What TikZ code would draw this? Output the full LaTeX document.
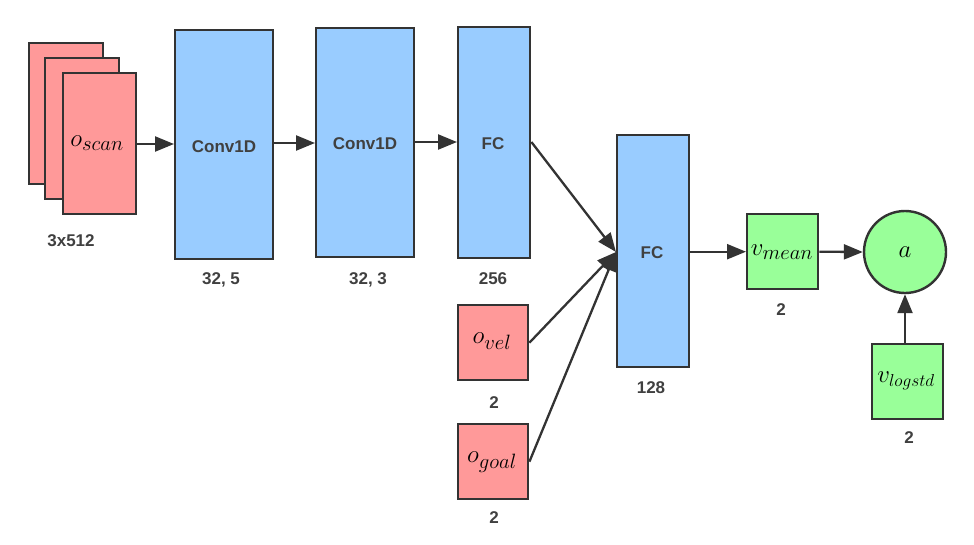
\documentclass[tikz,border=0pt]{standalone}
\usepackage{fontspec}
\setsansfont{Liberation Sans}
\usetikzlibrary{arrows.meta}
\definecolor{pinkf}{HTML}{FF9999}
\definecolor{bluef}{HTML}{99CCFF}
\definecolor{greenf}{HTML}{99FF99}
\definecolor{edge}{HTML}{333333}
\definecolor{lbl}{HTML}{404040}
\tikzset{
  box/.style={draw=edge, line width=2.4pt, inner sep=0pt, minimum width=#1},
  obs/.style={box, fill=pinkf},
  layer/.style={box, fill=bluef, font=\sffamily\bfseries\fontsize{17}{20}\selectfont, text=lbl},
  ltext/.style={font=\sffamily\bfseries\fontsize{17}{20}\selectfont, text=lbl, inner sep=0pt},
  outb/.style={box, fill=greenf},
  dimlbl/.style={font=\sffamily\bfseries\fontsize{17}{20}\selectfont, text=lbl},
  mth/.style={font=\fontsize{32}{36}\selectfont},
  arr/.style={draw=edge, line width=2.3pt, -{Triangle[length=19pt,width=15pt]}},
}
\begin{document}
\begin{tikzpicture}[x=1pt,y=-1pt]
\useasboundingbox (0,0) rectangle (974,544);
% scan stack
\node[obs, minimum width=74pt, minimum height=141pt, anchor=north west] (scanA) at (28,42) {};
\node[obs, minimum width=74pt, minimum height=141pt, anchor=north west] (scanB) at (44,57) {};
\node[obs, minimum width=73pt, minimum height=141pt, anchor=north west] (scanC) at (62,72) {};
\node[mth] (scant) at (97,143) {$o_{scan}$};
\node[dimlbl] (lscan) at (71,241) {3x512};
% conv layers
\node[layer, minimum width=98pt, minimum height=229pt, anchor=north west] (conv1) at (174,29) {};
\node[ltext] (conv1t) at (224,147) {Conv1D};
\node[dimlbl] (lconv1) at (221,280) {32, 5};
\node[layer, minimum width=98pt, minimum height=229pt, anchor=north west] (conv2) at (315,27) {};
\node[ltext] (conv2t) at (365,144) {Conv1D};
\node[dimlbl] (lconv2) at (368,280) {32, 3};
\node[layer, minimum width=72pt, minimum height=231pt, anchor=north west] (fc1) at (457,26) {};
\node[ltext] (fc1t) at (493,144) {FC};
\node[dimlbl] (lfc1) at (493,279) {256};
% fc2
\node[layer, minimum width=72pt, minimum height=232pt, anchor=north west] (fc2) at (616,134) {};
\node[ltext] (fc2t) at (652,253) {FC};
\node[dimlbl] (lfc2) at (651,388) {128};
% obs small
\node[obs, minimum width=70pt, minimum height=75pt, anchor=north west] (vel) at (457,304) {};
\node[mth] (velt) at (492,341) {$o_{vel}$};
\node[dimlbl] (lvel) at (494,403) {2};
\node[obs, minimum width=70pt, minimum height=75pt, anchor=north west] (goal) at (457,423) {};
\node[mth] (goalt) at (492,462) {$o_{goal}$};
\node[dimlbl] (lgoal) at (494,518) {2};
% outputs
\node[outb, minimum width=71pt, minimum height=75pt, anchor=north west] (vmean) at (746,213) {};
\node[mth] (vmeant) at (782,252) {$v_{mean}$};
\node[dimlbl] (lvmean) at (781,310) {2};
\node[outb, minimum width=71pt, minimum height=75pt, anchor=north west] (vstd) at (871,343) {};
\node[mth, font=\fontsize{26}{30}\selectfont] (vstdt) at (906,381) {$v_{logstd}$};
\node[dimlbl] (lvstd) at (909,438) {2};
\node[draw=edge, line width=2.4pt, fill=greenf, circle, minimum size=82pt, inner sep=0pt, font=\fontsize{44}{48}\selectfont] (act) at (905,252) {$a$};
% connectors
\draw[arr] (scanC.east |- 0,144) -- (conv1.west |- 0,144);
\draw[arr] (conv1.east |- 0,143) -- (conv2.west |- 0,143);
\draw[arr] (conv2.east |- 0,142) -- (fc1.west |- 0,142);
\coordinate (fcin) at (fc2.west |- 0,252);
\draw[arr] (fc1.east |- 0,142) -- (fcin);
\draw[arr] (vel.east) -- (fcin);
\draw[arr] (goal.east) -- (fcin);
\draw[arr] (fc2.east |- vmean.west) -- (vmean.west);
\draw[arr] (vmean.east) -- (act.west);
\draw[arr] (vstd.north -| act.south) -- (act.south);
\end{tikzpicture}
\end{document}
